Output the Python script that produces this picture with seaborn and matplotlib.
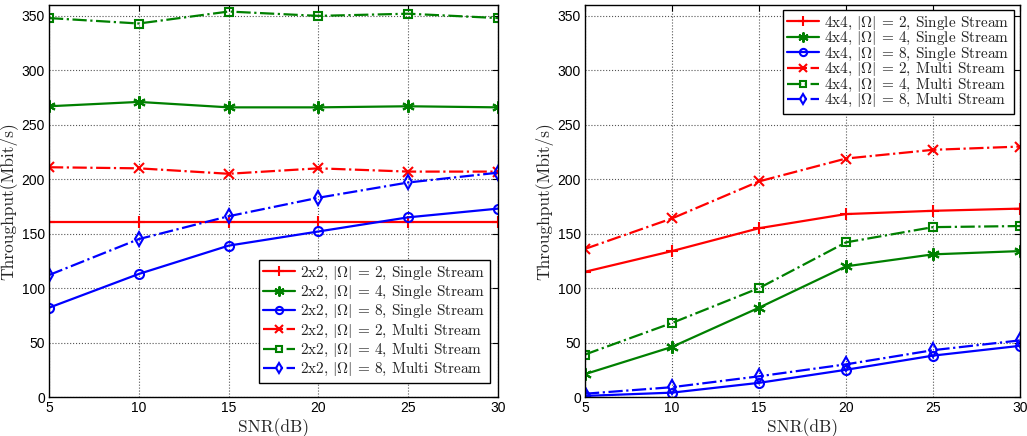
import matplotlib
matplotlib.use("Agg")
import matplotlib.pyplot as plt
import seaborn as sns
import numpy as np

snr = [5, 10, 15, 20, 25, 30]

# Left panel (2x2)
l_single_2 = [161, 161, 161, 161, 161, 161]
l_single_4 = [267, 271, 266, 266, 267, 266]
l_single_8 = [82, 113, 139, 152, 165, 173]
l_multi_2 = [211, 210, 205, 210, 207, 207]
l_multi_4 = [348, 343, 354, 350, 352, 348]
l_multi_8 = [112, 145, 166, 183, 197, 206]

# Right panel (4x4)
r_single_2 = [115, 134, 155, 168, 171, 173]
r_single_4 = [21, 46, 82, 120, 131, 134]
r_single_8 = [1, 4, 13, 25, 38, 47]
r_multi_2 = [136, 164, 198, 219, 227, 230]
r_multi_4 = [39, 68, 100, 142, 156, 157]
r_multi_8 = [3, 9, 19, 30, 43, 52]

left_labels = [r"2x2, $|\Omega|$ = 2, Single Stream",
               r"2x2, $|\Omega|$ = 4, Single Stream",
               r"2x2, $|\Omega|$ = 8, Single Stream",
               r"2x2, $|\Omega|$ = 2, Multi Stream",
               r"2x2, $|\Omega|$ = 4, Multi Stream",
               r"2x2, $|\Omega|$ = 8, Multi Stream"]
right_labels = [l.replace("2x2", "4x4") for l in left_labels]

yticks = [0, 50, 100, 150, 200, 250, 300, 350]
xticks = [5, 10, 15, 20, 25, 30]

sns.set_theme(style="white")
plt.rcParams['font.family'] = ['Liberation Sans', 'DejaVu Sans']
plt.rcParams['mathtext.fontset'] = 'cm'
plt.rcParams['axes.unicode_minus'] = False

RED = (1, 0, 0)
GREEN = (0, 0.5, 0)
BLUE = (0, 0, 1)
ASTER = (6, 2, 0)

styles = [
    dict(color=RED, marker='+', linestyle='-', markersize=9, mew=1.5),
    dict(color=GREEN, marker=ASTER, linestyle='-', markersize=9, mew=1.5),
    dict(color=BLUE, marker='o', linestyle='-', markersize=6.5, mew=1.5, mfc='none'),
    dict(color=RED, marker='x', linestyle='-.', markersize=7, mew=1.5),
    dict(color=GREEN, marker='s', linestyle='-.', markersize=5.5, mew=1.5, mfc='none'),
    dict(color=BLUE, marker='d', linestyle='-.', markersize=7, mew=1.5, mfc='none'),
]

fig = plt.figure(figsize=(10.27, 4.36), dpi=100)
axL = fig.add_axes([49/1027, 1-397/436, (498-49)/1027, (397-5)/436])
axR = fig.add_axes([585/1027, 1-397/436, (1020-585)/1027, (397-5)/436])

panels = [
    (axL, [l_single_2, l_single_4, l_single_8, l_multi_2, l_multi_4, l_multi_8], left_labels,
     'lower right', (0.982, 0.036), 0.15),
    (axR, [r_single_2, r_single_4, r_single_8, r_multi_2, r_multi_4, r_multi_8], right_labels,
     'upper right', (0.986, 0.987), -0.1),
]

for ax, series, labels, loc, anchor, lsp in panels:
    for vals, lab, st in zip(series, labels, styles):
        sns.lineplot(x=snr, y=vals, ax=ax, label=lab, linewidth=1.6,
                     markeredgecolor=st['color'], **st)
    ax.set_xlim(5, 30)
    ax.set_ylim(0, 360)
    ax.set_xticks(xticks)
    ax.set_yticks(yticks)
    ax.tick_params(direction='in', top=True, right=True, labelsize=10,
                   length=4, width=0.8, colors='black', pad=3)
    ax.grid(True, linestyle=':', color='#555555', linewidth=0.8)
    for sp in ax.spines.values():
        sp.set_color('black')
        sp.set_linewidth(1.0)
    ax.set_xlabel('SNR(dB)', fontfamily='cmr10', fontsize=12.5, labelpad=2)
    ax.set_ylabel('Throughput(Mbit/s)', fontfamily='cmr10', fontsize=12.5, labelpad=3)
    leg = ax.legend(loc=loc, bbox_to_anchor=anchor, borderaxespad=0,
                    prop={'family': 'cmr10', 'size': 11},
                    fancybox=False, framealpha=1, edgecolor='black',
                    handlelength=2.1, handletextpad=0.3, borderpad=0.3,
                    labelspacing=lsp, markerscale=0.8)
    leg.get_frame().set_linewidth(1.0)
    for t in leg.get_texts():
        t.set_color('#222222')

fig.savefig('out.png', dpi=100)
